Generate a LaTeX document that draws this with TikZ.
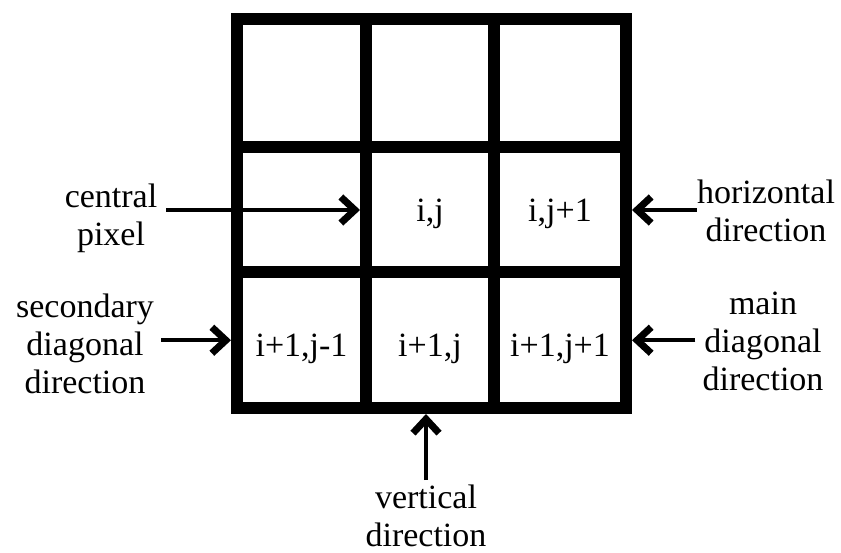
\documentclass[tikz,border=0pt]{standalone}
\usepackage{fontspec}
\setmainfont{Liberation Serif}
\usetikzlibrary{arrows.meta,calc}
\begin{document}
\begin{tikzpicture}[x=1pt,y=-1pt,
  bigfont/.style={font=\fontsize{34}{38}\selectfont},
  cell/.style={draw, line width=12pt, inner sep=0pt, outer sep=6pt, bigfont, text depth=0pt},
  lbl/.style={align=center, inner sep=0pt, anchor=north, bigfont},
  arr/.style={line width=4.5pt, -{Straight Barb[length=14pt,width=26pt,line width=7pt]}}]
\useasboundingbox (0,0) rectangle (841,553);

% 3x3 pixel neighbourhood
\node[cell, minimum width=129pt, minimum height=128.5pt] (c11) at (301.5,83.25) {};
\node[cell, minimum width=128pt, minimum height=128.5pt] (c12) at (430,83.25) {};
\node[cell, minimum width=132pt, minimum height=128.5pt] (c13) at (560,83.25) {};
\node[cell, minimum width=129pt, minimum height=125pt, text height=23.4pt] (c21) at (301.5,210) {};
\node[cell, minimum width=128pt, minimum height=125pt, text height=23.4pt] (c22) at (430,210) {i,j};
\node[cell, minimum width=132pt, minimum height=125pt, text height=23.4pt] (c23) at (560,210) {i,j+1};
\node[cell, minimum width=129pt, minimum height=135.5pt, text height=32.9pt] (c31) at (301.5,340.25) {i+1,j-1};
\node[cell, minimum width=128pt, minimum height=135.5pt, text height=32.9pt] (c32) at (430,340.25) {i+1,j};
\node[cell, minimum width=132pt, minimum height=135.5pt, text height=32.9pt] (c33) at (560,340.25) {i+1,j+1};

% labels
\node[lbl] (cp) at (111,184) {central\\pixel};
\node[lbl] (sd) at (85,294) {secondary\\diagonal\\direction};
\node[lbl] (hd) at (766,180) {horizontal\\direction};
\node[lbl] (md) at (763,292) {main\\diagonal\\direction};
\node[lbl] (vd) at (426,485) {vertical\\direction};

% arrows
\draw[arr] ($(cp.east |- c22.west)+(9,0)$) -- (c22.west);
\draw[arr] ($(sd.east |- c31.west)+(7,0)$) -- (c31.west);
\draw[arr] (hd.west |- c23.east) -- (c23.east);
\draw[arr] ($(md.west |- c33.east)+(-7,0)$) -- (c33.east);
\draw[arr] ($(vd.north)+(0,-5)$) -- (vd.north |- c32.south);
\end{tikzpicture}
\end{document}
